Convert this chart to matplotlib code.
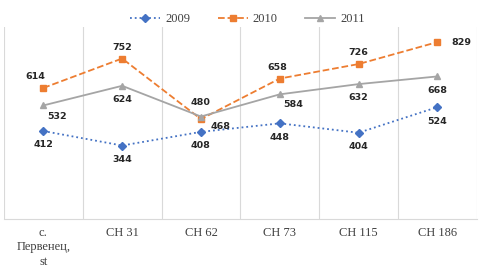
import matplotlib.pyplot as plt
import numpy as np

categories = ["с.\nПервенец,\nst", "СН 31", "СН 62", "СН 73", "СН 115", "СН 186"]
years = ["2009", "2010", "2011"]
values_2009 = [412, 344, 408, 448, 404, 524]
values_2010 = [614, 752, 468, 658, 726, 829]
values_2011 = [532, 624, 480, 584, 632, 668]

COLORS = {"2009": "#4472c4", "2010": "#ed7d31", "2011": "#a5a5a5"}
STYLES = {"2009": (":", "D", 4), "2010": ("--", "s", 4.5), "2011": ("-", "^", 5)}

# label offsets in points (dx, dy) per series, per category
OFFSETS = {
    "2009": [(0, -10)] * 6,
    "2010": [(-6, 8), (0, 8), (14, -5), (-2, 8), (0, 8), (17, 0)],
    "2011": [(10, -8), (0, -10), (0, 10), (10, -7), (0, -10), (0, -10)],
}

fig = plt.figure(figsize=(4.9, 2.75), dpi=100)
ax = fig.add_axes([0.008, 0.204, 0.965, 0.698])

x = np.arange(len(categories))
series = {"2009": values_2009, "2010": values_2010, "2011": values_2011}
for year in years:
    ls, marker, ms = STYLES[year]
    vals = series[year]
    ax.plot(x, vals, linestyle=ls, marker=marker, markersize=ms, color=COLORS[year],
            linewidth=1.3, label=year, zorder=3)
    for xi, v, (dx, dy) in zip(x, vals, OFFSETS[year]):
        ax.annotate(str(v), (xi, v), xytext=(dx, dy), textcoords="offset points",
                    ha="center", va="center", fontsize=6.8, fontweight="bold",
                    color="#262626", family="DejaVu Sans", zorder=4)

ax.set_xlim(-0.5, len(categories) - 0.5)
ax.set_ylim(0, 900)
ax.set_yticks([])
ax.set_xticks(x)
ax.set_xticklabels(categories, family="Liberation Serif", fontsize=9, color="#404040",
                   linespacing=1.25)
ax.tick_params(axis="x", length=0, pad=6)
ax.set_xticks(np.arange(-0.5, len(categories)), minor=True)
ax.tick_params(axis="x", which="minor", length=0)
ax.grid(axis="x", which="minor", color="#d9d9d9", linewidth=0.8)

for side in ["top", "right", "left"]:
    ax.spines[side].set_visible(False)
ax.spines["bottom"].set_color("#d9d9d9")

leg = ax.legend(loc="upper center", bbox_to_anchor=(0.515, 1.13), ncol=3, frameon=False,
                prop={"family": "Liberation Serif", "size": 9}, handlelength=2.4,
                handletextpad=0.4, columnspacing=2.2, labelcolor="#404040")

fig.savefig("out.png", dpi=100)
